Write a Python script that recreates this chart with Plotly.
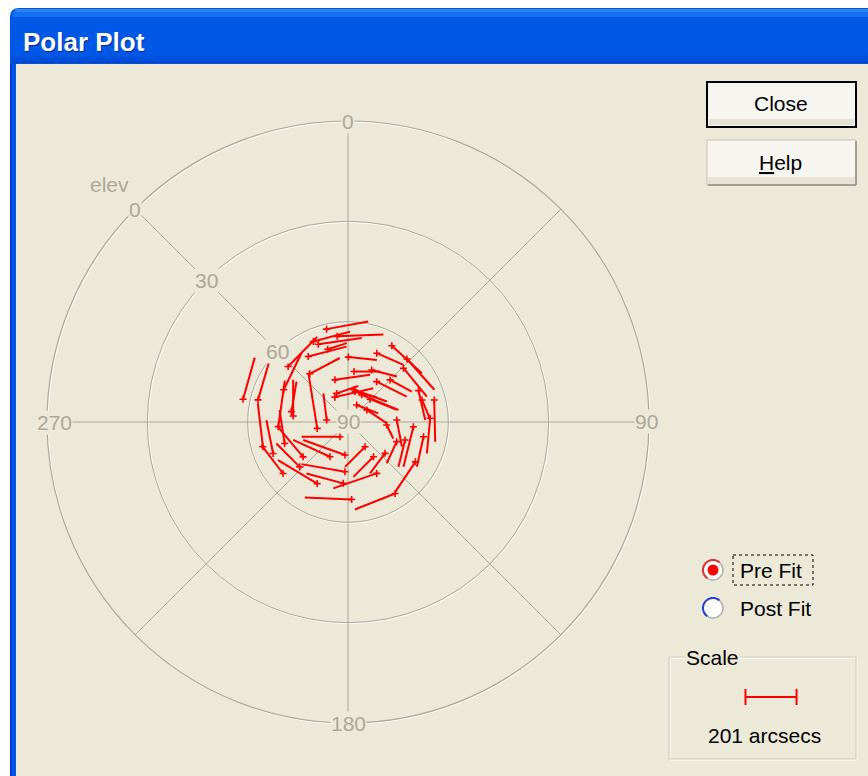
import numpy as np
import plotly.graph_objects as go

W, H = 868, 776

# ---------------- data ----------------
# star positions (deg) and pre-fit pointing error components (arcsec, screen east / north)
star_az = [347.0, 352.9, 339.1, 328.7, 312.8, 344.4, 321.6, 296.6, 0.3, 22.7,
           29.9, 43.1, 6.8, 24.5, 342.8, 332.2, 45.0, 66.0, 75.7, 73.4,
           94.1, 94.4, 13.0, 44.1, 27.0, 57.3, 120.6, 130.3, 150.8, 146.6,
           177.3, 183.5, 185.2, 206.6, 231.6, 253.8, 282.2, 283.8, 266.2, 276.3,
           258.3, 251.3, 232.2, 208.6, 207.4, 145.4, 45.9, 87.4, 112.0,
           10.6, 26.8, 338.4, 280.4, 87.6, 143.8, 184.4, 101.0, 336.7, 247.2,
           227.1, 275.4, 35.4, 107.5]
star_el = [61.5, 64.2, 65.1, 67.1, 65.6, 67.4, 71.6, 68.5, 70.6, 67.7,
           63.7, 64.2, 74.8, 72.9, 76.8, 81.6, 72.2, 66.9, 63.4, 66.9,
           70.4, 78.4, 80.7, 80.5, 84.3, 83.3, 66.6, 75.5, 72.4, 64.4,
           66.8, 75.1, 80.1, 69.4, 65.2, 63.5, 57.9, 62.3, 69.1, 73.5,
           80.6, 70.0, 73.0, 85.0, 78.3, 81.0, 66.9, 65.4, 74.3,
           80.2, 80.9, 80.8, 72.8, 75.4, 77.1, 71.6, 67.0, 63.8, 65.7,
           70.3, 83.6, 75.2, 72.1]
err_x = [164, 181, 171, 151, 114, 75, 118, 70, 112, 105,
         118, 108, 102, 99, 138, 151, 85, 26, 4, 33,
         -39, 26, 85, 105, 85, 79, -79, -59, -171, -158,
         -184, -171, -164, -154, -85, -20, 46, 46, 26, 0,
         -35, -20, -99, -151, -145, -79, 92, -13, -39,
         129, 145, 85, 20, 20, -79, -145, -26, 145, -26,
         -92, -13, 118, -26]
err_y = [30, 7, 24, 39, 116, 24, 62, 145, -11, -46,
         -108, -121, 0, -26, 20, 35, -46, -116, -164, -79,
         -158, -53, -22, -42, -33, -53, -118, -79, -59, -63,
         8, 30, 59, 92, 112, 171, 164, 158, 181, 142,
         219, 131, 118, 0, 66, -79, -112, -138, -85,
         -46, -59, 29, 118, -105, -79, 39, -118, 39, 131,
         92, 105, -59, -105]

SCALE_ARCSEC = 201          # length of the scale bar
VECTOR_GAIN = 0.076         # plot degrees per arcsec of error
ring_zd = [30, 60]          # zenith distance of the inner rings (elev 60, 30)
spoke_az = [0, 45, 90, 135, 180, 225, 270, 315]
az_labels = [0, 90, 180, 270]
elev_labels = [0, 30, 60, 90]

# ---------------- geometry of the dialog ----------------
CX, CY, R = 348, 422, 301     # polar plot centre / radius in pixels
BEIGE = "#ECE9D8"
GRID = "#ACA899"
RED = "#FF0000"
FONT = "Liberation Sans, Arial, sans-serif"
FS = 21


def fx(x):
    return x / W


def fy(y):
    return 1 - y / H


# ---------------- vectors ----------------
az = np.radians(np.array(star_az))
zd = 90 - np.array(star_el)
x0 = zd * np.sin(az)
y0 = zd * np.cos(az)
x1 = x0 + np.array(err_x) * VECTOR_GAIN
y1 = y0 + np.array(err_y) * VECTOR_GAIN
r1 = np.hypot(x1, y1)
t1 = np.degrees(np.arctan2(x1, y1)) % 360

lr, lt = [], []
for a, b, c, d in zip(zd, star_az, r1, t1):
    lr += [a, c, None]
    lt += [b, d, None]

fig = go.Figure()
fig.add_trace(go.Scatterpolar(r=lr, theta=lt, mode="lines",
                              line=dict(color=RED, width=2),
                              hoverinfo="skip", showlegend=False))
fig.add_trace(go.Scatterpolar(r=zd, theta=star_az, mode="markers",
                              marker=dict(symbol="cross-thin", size=5,
                                          line=dict(color=RED, width=1.6)),
                              hoverinfo="skip", showlegend=False))

fig.update_layout(
    width=W, height=H, margin=dict(l=0, r=0, t=0, b=0),
    paper_bgcolor="#FFFFFF", showlegend=False,
    polar=dict(
        domain=dict(x=[fx(CX - R), fx(CX + R)], y=[fy(CY + R), fy(CY - R)]),
        bgcolor="rgba(0,0,0,0)",
        radialaxis=dict(range=[0, 90], tickvals=ring_zd, showticklabels=False,
                        ticks="", showline=False, gridcolor=GRID, gridwidth=1.2),
        angularaxis=dict(rotation=90, direction="clockwise", tickvals=spoke_az,
                         showticklabels=False, ticks="", showline=True,
                         linecolor=GRID, linewidth=1.2, gridcolor=GRID, gridwidth=1.1),
    ),
)

shapes = []


def rect(x0_, y0_, x1_, y1_, fill=None, line=None, lw=0, dash=None, layer="below"):
    s = dict(type="rect", xref="paper", yref="paper",
             x0=fx(x0_), x1=fx(x1_), y0=fy(y0_), y1=fy(y1_),
             fillcolor=fill if fill else "rgba(0,0,0,0)",
             line=dict(color=line if line else "rgba(0,0,0,0)", width=lw),
             layer=layer)
    if dash:
        s["line"]["dash"] = dash
    shapes.append(s)


def seg(xa, ya, xb, yb, color, lw, layer="below"):
    shapes.append(dict(type="line", xref="paper", yref="paper",
                       x0=fx(xa), y0=fy(ya), x1=fx(xb), y1=fy(yb),
                       line=dict(color=color, width=lw), layer=layer))


def circle(cx, cy, r, fill=None, line=None, lw=0, layer="below"):
    shapes.append(dict(type="circle", xref="paper", yref="paper",
                       x0=fx(cx - r), x1=fx(cx + r), y0=fy(cy + r), y1=fy(cy - r),
                       fillcolor=fill if fill else "rgba(0,0,0,0)",
                       line=dict(color=line if line else "rgba(0,0,0,0)", width=lw),
                       layer=layer))


def arc(cx, cy, r, a0, a1, color, lw):
    t = np.radians(np.linspace(a0, a1, 24))
    pts = [(cx + r * np.cos(v), cy - r * np.sin(v)) for v in t]
    p = "M " + " L ".join(f"{fx(a):.5f},{fy(b):.5f}" for a, b in pts)
    shapes.append(dict(type="path", xref="paper", yref="paper", path=p,
                       line=dict(color=color, width=lw), layer="above"))


# window body and frame
rect(16, 63, W, H, fill=BEIGE)
rect(10, 63, 16, H, fill="#0055E5")
rect(10, 63, 11.5, H, fill="#0831D9")
# title bar with rounded top-left corner
tb = (f"M {fx(10)},{fy(64)} L {fx(10)},{fy(17)} Q {fx(10)},{fy(8)} {fx(19)},{fy(8)} "
      f"L {fx(W)},{fy(8)} L {fx(W)},{fy(64)} Z")
shapes.append(dict(type="path", xref="paper", yref="paper", path=tb,
                   fillcolor="#0058E6", line=dict(width=0), layer="below"))
rect(15, 9, W, 12, fill="#2F84F8")
rect(13, 12, W, 17, fill="#1670F2")
rect(11, 56, W, 61, fill="#0050DD")
rect(11, 61, W, 63.5, fill="#0046CC")

# etched highlight of the polar rings
for zz in ring_zd + [90]:
    rr = zz * R / 90
    circle(CX + 1, CY + 1, rr, line="#FFFFFF", lw=1)

# buttons
rect(707, 82, 856, 127, fill="#F6F5F0", line="#000000", lw=2)
rect(709, 119, 854, 125, fill="#E6E3D6")
rect(707, 140, 856, 185, fill="#F6F5F0", line="#C4C1B3", lw=1)
rect(708, 177, 855, 184, fill="#E6E3D6")
seg(856, 141, 856, 185, "#8E8C80", 1.5)
seg(708, 185, 856, 185, "#8E8C80", 1.5)

# radio buttons
for cy, col in [(570, "#E03030"), (608, "#2040E0")]:
    circle(713, cy, 10, fill="#FFFFFF", line="#B3B1A6", lw=1.5, layer="above")
    arc(713, cy, 10, 50, 235, col, 2)
circle(713, 570, 5.5, fill=RED, layer="above")
rect(733, 555, 813, 585, line="#000000", lw=1, dash="dot", layer="above")

# Scale group box
rect(670, 658, 857, 760, line="#FFFFFF", lw=1)
rect(669, 657, 856, 759, line="#D0D0BF", lw=1.2)

# scale bar (length from the vector gain)
bar_px = SCALE_ARCSEC * VECTOR_GAIN * R / 90
bx0, bx1, by = 771 - bar_px / 2, 771 + bar_px / 2, 697
seg(bx0, by, bx1, by, RED, 2, "above")
seg(bx0, by - 8, bx0, by + 8, RED, 2, "above")
seg(bx1, by - 8, bx1, by + 8, RED, 2, "above")

fig.update_layout(shapes=shapes)

ann = []


def text(x, y, s, size=FS, color="#000000", xanchor="center", bg=None,
         bold=False, family=FONT, shift=0):
    d = dict(xref="paper", yref="paper", x=fx(x), y=fy(y), text=s, showarrow=False,
             xanchor=xanchor, yanchor="middle", xshift=shift,
             font=dict(family=family, size=size, color=color,
                       weight="bold" if bold else "normal"))
    if bg:
        d["bgcolor"] = bg
        d["borderpad"] = 0
    ann.append(d)


# title
text(22, 43, "Polar Plot", size=26, color="#0A2A8A", xanchor="left", bold=True)
text(21, 42, "Polar Plot", size=26, color="#FFFFFF", xanchor="left", bold=True)

# azimuth labels on the outer ring
az_shift = {0: 0, 90: -3, 180: 0, 270: 7}
for a in az_labels:
    ra = np.radians(a)
    text(CX + R * np.sin(ra), CY - R * np.cos(ra), str(a), color=GRID, bg=BEIGE,
         shift=az_shift[a])

# elevation labels along the NW spoke
nw = np.radians(315)
for e in elev_labels:
    d = (90 - e) * R / 90
    text(CX + d * np.sin(nw), CY - d * np.cos(nw), str(e), color=GRID, bg=BEIGE)
d = 101 * R / 90
text(CX + d * np.sin(nw), CY - d * np.cos(nw) + 1, "elev", color=GRID)

# buttons and controls
text(781, 104, "Close")
text(780, 162, "<u>H</u>elp")
text(738, 570, "Pre Fit", xanchor="left")
text(738, 608, "Post Fit", xanchor="left")
text(685, 657, "Scale", xanchor="left", bg=BEIGE)
text(764, 735, f"{SCALE_ARCSEC} arcsecs")

fig.update_layout(annotations=ann)
fig.write_html("out.html")
